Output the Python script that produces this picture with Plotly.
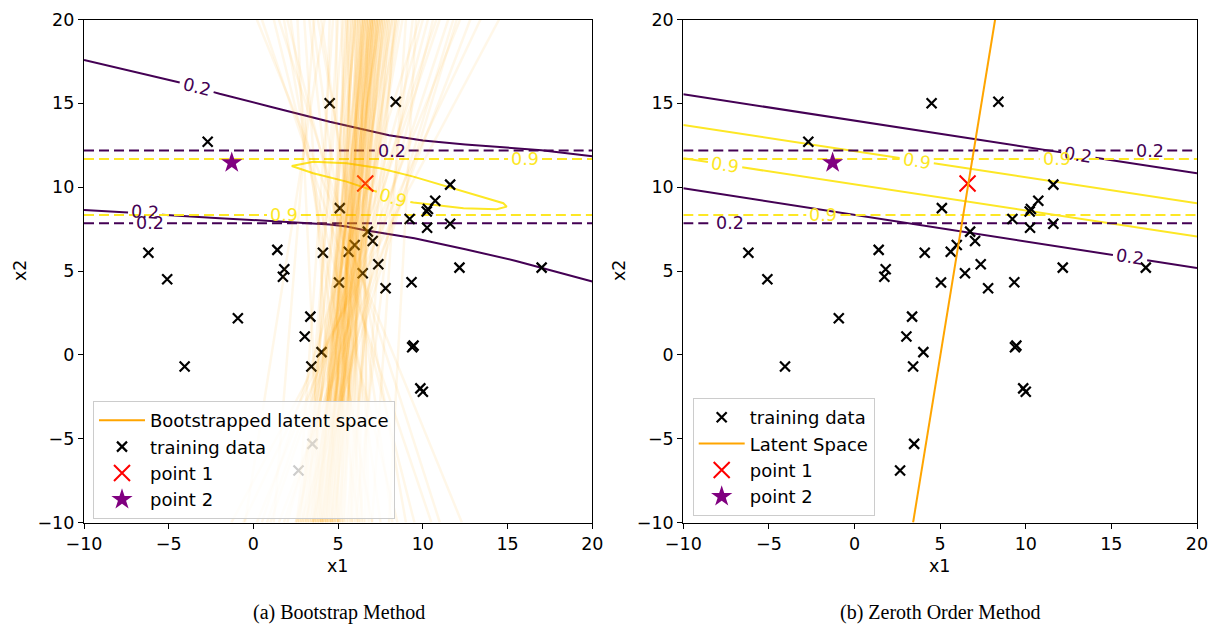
import plotly.graph_objects as go

# ---------------- data ----------------
train_x1 = [-6.2, -5.09, -0.92, -4.06, -2.7, 1.41, 1.82, 1.74, 4.10, 3.36, 3.03, 4.02, 3.42, 3.48, 2.66,
            5.05, 5.62, 5.97, 6.45, 7.04, 6.75, 7.37, 7.80, 9.33, 12.16, 17.01,
            9.37, 9.45, 9.85, 10.0, 4.5, 8.4, 5.1,
            11.61, 10.73, 10.23, 10.3, 9.22, 10.25, 11.61]
train_x2 = [6.09, 4.51, 2.18, -0.70, 12.71, 6.26, 5.10, 4.66, 6.09, 2.28, 1.09, 0.16, -0.70, -5.31, -6.90,
            4.31, 6.15, 6.55, 4.87, 6.79, 7.35, 5.40, 3.97, 4.33, 5.20, 5.20,
            0.45, 0.55, -2.0, -2.2, 15.0, 15.1, 8.75,
            10.15, 9.19, 8.55, 8.7, 8.1, 7.58, 7.82]
point1 = [6.6, 10.22]
point2 = [-1.28, 11.46]

# bootstrap-method probability contours (left panel)
boot_p02_upper_x = [-10, -7, -4.5, -2, 1, 4.5, 8, 10, 12.5, 15, 17, 20]
boot_p02_upper_y = [17.58, 16.86, 16.28, 15.57, 14.8, 13.9, 13.1, 12.78, 12.55, 12.38, 12.2, 11.85]
boot_p02_lower_x = [-10, -7.5, -5, -2, 1, 3, 4.5, 5.5, 6.5, 9.5, 12.5, 15.5, 17, 20]
boot_p02_lower_y = [8.64, 8.5, 8.33, 8.15, 7.98, 7.88, 7.78, 7.65, 7.45, 6.95, 6.3, 5.6, 5.2, 4.37]
boot_p09_x = [2.26, 3.53, 5.5, 7.47, 9.44, 11.4, 13.38, 14.75, 14.95, 14.36, 12.4, 10.43, 9.44, 8.26, 7.28, 5.5, 3.53, 2.55, 2.26]
boot_p09_y = [11.26, 11.52, 11.42, 11.13, 10.63, 10.03, 9.43, 9.04, 8.84, 8.68, 8.74, 8.94, 9.08, 9.34, 9.73, 10.33, 10.83, 11.13, 11.26]

# reference (dashed) contours, horizontal levels of x2
ref_p02_levels = [12.18, 7.85]
ref_p09_levels = [11.68, 8.34]

# zeroth-order contours (right panel), x2 value at x1=-10 and x1=20
zo_x_ends = [-10, 20]
zo_p02_lines = [[15.54, 10.83], [9.93, 5.18]]
zo_p09_lines = [[13.71, 9.04], [11.72, 7.05]]

# latent space line (right panel)
latent_x = [3.42, 8.21]
latent_y = [-10, 20]

# bootstrapped latent spaces: x1 where each line meets x2 = 20 (top) and x2 = -10 (bottom)
boot_top = [4.5, 4.7, 4.9, 5.0, 5.2, 5.3, 5.4, 5.5, 5.6, 5.7,
            5.8, 5.9, 6.0, 6.0, 6.1, 6.2, 6.2, 6.3, 6.4, 6.4,
            6.5, 6.5, 6.6, 6.6, 6.7, 6.7, 6.8, 6.8, 6.9, 6.9,
            7.0, 7.0, 7.0, 7.1, 7.1, 7.2, 7.2, 7.3, 7.3, 7.4,
            7.4, 7.5, 7.5, 7.6, 7.6, 7.7, 7.8, 7.8, 7.9, 8.0,
            8.1, 8.2, 8.3, 8.4, 8.5, 8.6, 8.8, 9.0, 6.3, 6.7,
            7.1, 7.5, 6.1, 6.9, 7.3, 5.9, 7.7, 6.5, 7.0, 6.8,
            5.5, 8.0, 6.6, 7.2, 6.4, 7.4, 5.8, 8.2, 6.0, 7.6,
            6.2, 7.9, 5.6, 8.4, 6.9, 7.1, 6.7, 7.3, 6.5, 7.0,
            3.0, 2.2, 10.0, 11.0, 3.5, 1.2, 12.2, 10.6, 2.6, 13.4,
            0.5, 14.5, 0.2, 9.8, 3.8, 11.8, 1.8, 12.8, 4.2, 9.6,
            3.3, 10.3, 2.0, 11.5, 9.4, 4.0, 12.0, 1.5, 10.8, 3.6]
boot_bottom = [3.6, 2.6, 5.0, 3.2, 5.8, 2.8, 4.3, 6.4, 3.4, 5.2,
               2.9, 4.6, 6.1, 3.9, 2.7, 5.4, 4.1, 6.8, 3.2, 4.7,
               5.8, 3.0, 4.3, 3.7, 5.2, 6.6, 3.5, 4.8, 2.7, 5.6,
               4.1, 3.3, 6.2, 4.6, 3.8, 5.3, 2.9, 4.4, 5.9, 3.6,
               5.0, 2.5, 4.0, 5.0, 4.5, 4.6, 4.2, 3.3, 5.1, 5.7,
               4.7, 2.6, 6.3, 5.5, 3.1, 4.0, 3.5, 7.0, 5.0, 3.1,
               4.4, 3.8, 4.9, 4.1, 3.6, 4.5, 4.8, 3.9, 4.2, 5.3,
               4.0, 4.3, 3.7, 4.6, 5.1, 3.4, 4.4, 4.7, 3.8, 4.2,
               4.9, 3.9, 4.5, 4.1, 3.5, 4.8, 4.3, 4.0, 4.6, 3.7,
               5.0, 6.2, 2.0, 1.0, 7.5, 8.5, 0.2, 3.5, 4.0, -0.6,
               10.5, -1.3, 12.3, 0.5, 9.0, 2.8, 7.0, 1.5, -0.5, 8.0,
               6.5, 2.5, 9.5, 1.8, 6.0, 8.2, 3.0, 11.0, 0.8, 1.2]

ticks = [-10, -5, 0, 5, 10, 15, 20]
tick_text = [str(t).replace("-", "\u2212") for t in ticks]

# contour labels: (panel, x1, x2, text, level, angle)
labels = [
    ("L", -3.35, 15.96, "0.2", 0.2, 14), ("L", -6.4, 8.5, "0.2", 0.2, 3),
    ("L", 8.26, 9.34, "0.9", 0.9, 16),
    ("L", 8.16, 12.18, "0.2", 0.2, 0), ("L", -6.1, 7.85, "0.2", 0.2, 0),
    ("L", 16.03, 11.68, "0.9", 0.9, 0), ("L", 1.8, 8.34, "0.9", 0.9, 0),
    ("R", 13.07, 11.94, "0.2", 0.2, 9), ("R", 16.09, 5.84, "0.2", 0.2, 9),
    ("R", 3.63, 11.58, "0.9", 0.9, 9), ("R", -7.56, 11.34, "0.9", 0.9, 9),
    ("R", 17.26, 12.18, "0.2", 0.2, 0), ("R", 11.81, 11.68, "0.9", 0.9, 0),
    ("R", -7.28, 7.85, "0.2", 0.2, 0), ("R", -1.82, 8.34, "0.9", 0.9, 0),
]

# ---------------- styling ----------------
PURPLE = "#440154"
YELLOW = "#fde725"
ORANGE = "#ffa500"
FONT = "DejaVu Sans"
FS = 17.5
W, H = 1209, 625
GAP = 1.0  # half gap (x1 units) cut around an inline label


def px2paper_x(px):
    return px / W


def px2paper_y(py):
    return 1 - py / H


def with_gaps(xs, ys, panel, level):
    gaps = [(lx, ly) for (p, lx, ly, t, lv, a) in labels if p == panel and lv == level]
    out_x, out_y = [], []
    last = None
    for i in range(len(xs) - 1):
        segs = [(xs[i], ys[i], xs[i + 1], ys[i + 1])]
        for (lx, ly) in gaps:
            new = []
            for (ax, ay, bx, by) in segs:
                lo, hi = lx - GAP, lx + GAP
                xmin, xmax = min(ax, bx), max(ax, bx)
                if bx == ax or xmax <= lo or xmin >= hi:
                    new.append((ax, ay, bx, by))
                    continue
                yat = lambda x: ay + (by - ay) * (x - ax) / (bx - ax)
                if abs(yat(min(max(lx, xmin), xmax)) - ly) > 0.35:
                    new.append((ax, ay, bx, by))
                    continue
                if bx > ax:
                    if ax < lo:
                        new.append((ax, ay, lo, yat(lo)))
                    if bx > hi:
                        new.append((hi, yat(hi), bx, by))
                else:
                    if ax > hi:
                        new.append((ax, ay, hi, yat(hi)))
                    if bx < lo:
                        new.append((lo, yat(lo), bx, by))
            segs = new
        for (ax, ay, bx, by) in segs:
            if last is not None and abs(last[0] - ax) < 1e-9 and abs(last[1] - ay) < 1e-9:
                out_x.append(bx); out_y.append(by)
            else:
                if out_x:
                    out_x.append(None); out_y.append(None)
                out_x += [ax, bx]; out_y += [ay, by]
            last = (bx, by)
    return out_x, out_y


fig = go.Figure()


def add_line(xs, ys, panel, level, color, dash="solid"):
    gx, gy = with_gaps(xs, ys, panel, level)
    fig.add_trace(go.Scatter(
        x=gx, y=gy, mode="lines", line=dict(color=color, width=2, dash=dash),
        xaxis="x" if panel == "L" else "x2", yaxis="y" if panel == "L" else "y2",
        showlegend=False, hoverinfo="skip"))


DASH = "10px,5px"
# ----- left panel contours -----
add_line(boot_p02_upper_x, boot_p02_upper_y, "L", 0.2, PURPLE)
add_line(boot_p02_lower_x, boot_p02_lower_y, "L", 0.2, PURPLE)
add_line(boot_p09_x, boot_p09_y, "L", 0.9, YELLOW)
for lv in ref_p02_levels:
    add_line([-10, 20], [lv, lv], "L", 0.2, PURPLE, DASH)
for lv in ref_p09_levels:
    add_line([-10, 20], [lv, lv], "L", 0.9, YELLOW, DASH)

# ----- right panel contours -----
for ln in zo_p02_lines:
    add_line(zo_x_ends, ln, "R", 0.2, PURPLE)
for ln in zo_p09_lines:
    add_line(zo_x_ends, ln, "R", 0.9, YELLOW)
for lv in ref_p02_levels:
    add_line([-10, 20], [lv, lv], "R", 0.2, PURPLE, DASH)
for lv in ref_p09_levels:
    add_line([-10, 20], [lv, lv], "R", 0.9, YELLOW, DASH)

# ----- markers -----
for ax, leg in (("", "legend"), ("2", "legend2")):
    fig.add_trace(go.Scatter(
        x=train_x1, y=train_x2, mode="markers", name="training data",
        marker=dict(symbol="x-thin", size=10, line=dict(width=2.2, color="black"), color="black"),
        xaxis="x" + ax, yaxis="y" + ax, legend=leg, legendrank=2))
    fig.add_trace(go.Scatter(
        x=[point1[0]], y=[point1[1]], mode="markers", name="point 1",
        marker=dict(symbol="x-thin", size=16, line=dict(width=2, color="red"), color="red"),
        xaxis="x" + ax, yaxis="y" + ax, legend=leg, legendrank=3))
    fig.add_trace(go.Scatter(
        x=[point2[0]], y=[point2[1]], mode="markers", name="point 2",
        marker=dict(symbol="star", size=16, color="purple", line=dict(width=0)),
        xaxis="x" + ax, yaxis="y" + ax, legend=leg, legendrank=4))

# ----- bootstrapped latent spaces (left) -----
for xt, xb in zip(boot_top, boot_bottom):
    fig.add_trace(go.Scatter(x=[xb, xt], y=[-10, 20], mode="lines",
                             line=dict(color="rgba(255,165,0,0.09)", width=2.5),
                             xaxis="x", yaxis="y", showlegend=False, hoverinfo="skip"))
fig.add_trace(go.Scatter(x=[None], y=[None], mode="lines", name="Bootstrapped latent space",
                         line=dict(color=ORANGE, width=2), xaxis="x", yaxis="y",
                         legend="legend", legendrank=1))

# ----- latent space line (right) -----
fig.add_trace(go.Scatter(x=latent_x, y=latent_y, mode="lines", name="Latent Space",
                         line=dict(color=ORANGE, width=2), xaxis="x2", yaxis="y2",
                         legend="legend2", legendrank=2.5))

# ----- annotations -----
ann = []
for (p, lx, ly, t, lv, a) in labels:
    ann.append(dict(x=lx, y=ly, xref="x" if p == "L" else "x2", yref="y" if p == "L" else "y2",
                    text=t, showarrow=False, textangle=a, xanchor="center", yanchor="middle",
                    font=dict(family=FONT, size=FS, color=PURPLE if lv == 0.2 else YELLOW)))

for (px, py, t, ang) in ((338, 566, "x1", 0), (940, 566, "x1", 0), (20, 270, "x2", -90), (619, 270, "x2", -90)):
    ann.append(dict(x=px2paper_x(px), y=px2paper_y(py), xref="paper", yref="paper", text=t,
                    showarrow=False, textangle=ang, xanchor="center", yanchor="middle",
                    font=dict(family=FONT, size=FS, color="black")))
for (px, py, t) in ((339, 612, "(a) Bootstrap Method"), (940, 612, "(b) Zeroth Order Method")):
    ann.append(dict(x=px2paper_x(px), y=px2paper_y(py), xref="paper", yref="paper", text=t,
                    showarrow=False, xanchor="center", yanchor="middle",
                    font=dict(family="Liberation Serif", size=20, color="black")))

axis_common = dict(range=[-10, 20], tickvals=ticks, ticktext=tick_text, ticks="outside", ticklen=5,
                   tickwidth=1.2, tickcolor="black", showline=True, mirror=True, linecolor="black",
                   linewidth=1.2, showgrid=False, zeroline=False, automargin=False,
                   tickfont=dict(family=FONT, size=FS, color="black"))
ytop, ybot = px2paper_y(19.5), px2paper_y(522.5)

legend_common = dict(bgcolor="rgba(255,255,255,0.8)", bordercolor="#cccccc", borderwidth=1,
                     font=dict(family=FONT, size=18, color="black"), xanchor="left", yanchor="top",
                     traceorder="normal", itemwidth=46)

fig.update_layout(
    width=W, height=H, margin=dict(l=0, r=0, t=0, b=0, autoexpand=False),
    paper_bgcolor="white", plot_bgcolor="white",
    xaxis=dict(domain=[px2paper_x(84), px2paper_x(592.3)], anchor="y", **axis_common),
    yaxis=dict(domain=[ybot, ytop], anchor="x", **axis_common),
    xaxis2=dict(domain=[px2paper_x(683.3), px2paper_x(1197)], anchor="y2", **axis_common),
    yaxis2=dict(domain=[ybot, ytop], anchor="x2", **axis_common),
    legend=dict(x=px2paper_x(93), y=px2paper_y(401), **legend_common),
    legend2=dict(x=px2paper_x(692.7), y=px2paper_y(398), **legend_common),
    annotations=ann,
)

# remove the browser's default page margin so the figure sits at the page origin
fig.write_html("out.html", config={"displayModeBar": False},
               post_script="document.body.style.margin='0';"
                           "document.documentElement.style.overflow='hidden';")
